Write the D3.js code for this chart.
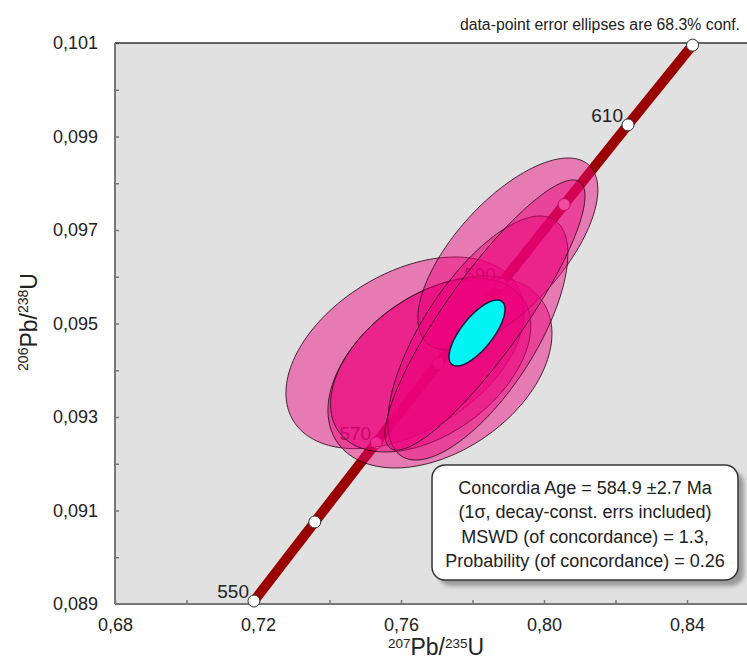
<!DOCTYPE html>
<html>
<head>
<meta charset="utf-8">
<script src="https://cdn.jsdelivr.net/npm/d3@7"></script>
<style>
  body { margin: 0; background: #fff; }
  text { font-family: "Liberation Sans", Arial, sans-serif; fill: #222; }
</style>
</head>
<body>
<div id="chart"></div>
<script>
// axis ticks
const xTicks = [0.68, 0.72, 0.76, 0.80, 0.84];
const xMinor = [0.70, 0.74, 0.78, 0.82, 0.86];
const yTicks = [0.089, 0.091, 0.093, 0.095, 0.097, 0.099, 0.101];
const yMinor = [0.090, 0.092, 0.094, 0.096, 0.098, 0.100];

// concordia markers (Ma) and their ratios
const concAges = [550, 560, 570, 580, 590, 600, 610, 620];
const concX = [0.71887, 0.73588, 0.75306, 0.77041, 0.78794, 0.80563, 0.82350, 0.84155];
const concY = [0.089064, 0.090755, 0.092448, 0.094144, 0.095843, 0.097544, 0.099248, 0.100954];
const labelAges = [550, 570, 590, 610];

// data-point error ellipses: 207/235, sigma, 206/238, sigma, rho
const ellX = [0.7611, 0.7709, 0.7683, 0.7899, 0.7815, 0.7835];
const ellSx = [0.03329, 0.03133, 0.02800, 0.02517, 0.02517, 0.02797];
const ellY = [0.094373, 0.093963, 0.094112, 0.096487, 0.094690, 0.095182];
const ellSy = [0.00205, 0.002053, 0.00186, 0.002053, 0.00261, 0.002888];
const ellRho = [0.42, 0.40, 0.45, 0.67, 0.69, 0.88];

// concordia age ellipse
const ageX = 0.78126, ageSx = 0.00783, ageY = 0.094797, ageSy = 0.000706, ageRho = 0.72;

const legendLines = [
  "Concordia Age = 584.9 \u00b12.7 Ma",
  "(1\u03c3, decay-const. errs included)",
  "MSWD (of concordance) = 1.3,",
  "Probability (of concordance) = 0.26"
];

const width = 747, height = 661;
const svg = d3.select("#chart").append("svg")
  .attr("width", width).attr("height", height);

const x = d3.scaleLinear().domain([0.68, 0.88]).range([115, 830]);
const y = d3.scaleLinear().domain([0.089, 0.101]).range([604, 43]);

// plot background
svg.append("rect")
  .attr("x", x(0.68)).attr("y", y(0.101))
  .attr("width", width - x(0.68)).attr("height", y(0.089) - y(0.101))
  .attr("fill", "#e1e1e1");

const comma = d => d3.format(".3f")(d).replace(".", ",");
const comma2 = d => d3.format(".2f")(d).replace(".", ",");

// y axis
const yAxis = svg.append("g").attr("transform", `translate(${x(0.68)},0)`)
  .call(d3.axisLeft(y).tickValues(yTicks.concat(yMinor)).tickSize(-4).tickPadding(17)
    .tickFormat(d => yTicks.some(v => Math.abs(v - d) < 1e-9) ? comma(d) : ""));
yAxis.select(".domain").remove();
yAxis.selectAll("line").attr("stroke", "#777").attr("stroke-width", 1.5);
yAxis.selectAll("text").attr("font-size", 18).attr("fill", "#222")
  .attr("font-family", "'Liberation Sans', Arial, sans-serif");

// x axis
const xAxis = svg.append("g").attr("transform", `translate(0,${y(0.089)})`)
  .call(d3.axisBottom(x).tickValues(xTicks.concat(xMinor)).tickSize(-4).tickPadding(14)
    .tickFormat(d => xTicks.some(v => Math.abs(v - d) < 1e-9) ? comma2(d) : ""));
xAxis.select(".domain").remove();
xAxis.selectAll("line").attr("stroke", "#777").attr("stroke-width", 1.5);
xAxis.selectAll("text").attr("font-size", 18).attr("fill", "#222")
  .attr("font-family", "'Liberation Sans', Arial, sans-serif");

// frame lines
svg.append("line").attr("x1", x(0.68)).attr("x2", width)
  .attr("y1", y(0.101)).attr("y2", y(0.101)).attr("stroke", "#333").attr("stroke-width", 1.5);
svg.append("line").attr("x1", x(0.68)).attr("x2", x(0.68))
  .attr("y1", y(0.101)).attr("y2", y(0.089)).attr("stroke", "#777").attr("stroke-width", 2);
svg.append("line").attr("x1", x(0.68)).attr("x2", width)
  .attr("y1", y(0.089)).attr("y2", y(0.089)).attr("stroke", "#777").attr("stroke-width", 2);

// concordia band
const conc = concAges.map((a, i) => ({ age: a, x: concX[i], y: concY[i] }));
svg.append("path").datum(conc)
  .attr("d", d3.line().x(d => x(d.x)).y(d => y(d.y)))
  .attr("fill", "none").attr("stroke", "#9b0000").attr("stroke-width", 10);

svg.selectAll("circle.mark").data(conc).enter().append("circle")
  .attr("class", "mark")
  .attr("cx", d => x(d.x)).attr("cy", d => y(d.y)).attr("r", 6)
  .attr("fill", "#fff").attr("stroke", "#333").attr("stroke-width", 1);

svg.selectAll("text.age").data(conc.filter(d => labelAges.includes(d.age))).enter()
  .append("text").attr("class", "age")
  .attr("x", d => x(d.x) - 5).attr("y", d => y(d.y) - 3)
  .attr("text-anchor", "end").attr("font-size", 19)
  .text(d => d.age);

// error ellipses
function ellipse(x0, sx, y0, sy, r) {
  const k = Math.sqrt(1 - r * r);
  return d3.range(0, 360, 2).map(a => {
    const t = a * Math.PI / 180;
    return [x(x0 + sx * Math.cos(t)), y(y0 + sy * (r * Math.cos(t) + k * Math.sin(t)))];
  });
}
const ellLine = d3.line().curve(d3.curveLinearClosed);

const ells = ellX.map((v, i) => ellipse(v, ellSx[i], ellY[i], ellSy[i], ellRho[i]));
svg.selectAll("path.ell").data(ells).enter().append("path")
  .attr("class", "ell")
  .attr("d", ellLine)
  .attr("fill", "#ee007c").attr("fill-opacity", 0.45)
  .attr("stroke", "#2a0a1a").attr("stroke-opacity", 0.85).attr("stroke-width", 1);

svg.append("path").datum(ellipse(ageX, ageSx, ageY, ageSy, ageRho))
  .attr("d", ellLine)
  .attr("fill", "#00f4f4").attr("stroke", "#1a1a3a").attr("stroke-width", 1.5);

// legend box
const defs = svg.append("defs");
const f = defs.append("filter").attr("id", "shadow").attr("x", "-10%").attr("y", "-10%")
  .attr("width", "130%").attr("height", "130%");
f.append("feGaussianBlur").attr("stdDeviation", 2);
const bx = 432, by = 465, bw = 306, bh = 115;
svg.append("rect").attr("x", bx + 6).attr("y", by + 6).attr("width", bw).attr("height", bh)
  .attr("rx", 13).attr("fill", "#999").attr("filter", "url(#shadow)");
svg.append("rect").attr("x", bx).attr("y", by).attr("width", bw).attr("height", bh)
  .attr("rx", 13).attr("fill", "#fff").attr("stroke", "#333").attr("stroke-width", 1.5);
svg.selectAll("text.leg").data(legendLines).enter().append("text")
  .attr("class", "leg")
  .attr("x", bx + bw / 2).attr("y", (d, i) => by + 29 + i * 24.3)
  .attr("text-anchor", "middle").attr("font-size", 18)
  .text(d => d);

// note above the plot
svg.append("text").attr("x", 740).attr("y", 30).attr("text-anchor", "end")
  .attr("font-size", 15.8).text("data-point error ellipses are 68.3% conf.");

// axis titles
const xt = svg.append("text").attr("x", 436).attr("y", 655).attr("text-anchor", "middle");
xt.append("tspan").attr("font-size", 13.5).attr("dy", -7).text("207");
xt.append("tspan").attr("font-size", 23).attr("dy", 7).text("Pb/");
xt.append("tspan").attr("font-size", 13.5).attr("dy", -7).text("235");
xt.append("tspan").attr("font-size", 23).attr("dy", 7).text("U");

const yt = svg.append("text").attr("transform", "translate(37,322) rotate(-90)")
  .attr("text-anchor", "middle");
yt.append("tspan").attr("font-size", 14).attr("dy", -9).text("206");
yt.append("tspan").attr("font-size", 23).attr("dy", 9).text("Pb/");
yt.append("tspan").attr("font-size", 14).attr("dy", -9).text("238");
yt.append("tspan").attr("font-size", 23).attr("dy", 9).text("U");
</script>
</body>
</html>
